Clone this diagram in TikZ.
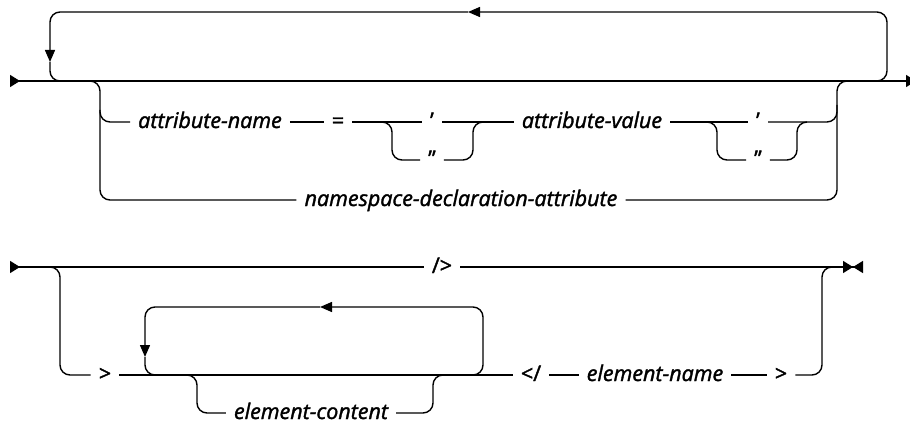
\documentclass[tikz,border=0pt]{standalone}
\usepackage{fontspec}
\setmainfont{Open Sans}[FakeBold=1.6]
\usetikzlibrary{arrows.meta}

\begin{document}
\begin{tikzpicture}[x=1pt,y=-1pt,
    rail/.style={line width=1.4pt, rounded corners=10pt},
    var/.style={font=\fontsize{21.5}{24}\selectfont\itshape, inner xsep=8pt, inner ysep=0pt, text height=12pt, text depth=0pt},
    kw/.style={font=\fontsize{21.5}{24}\selectfont, inner xsep=8pt, inner ysep=0pt, text height=12pt, text depth=0pt},
    tipL/.style={-{Triangle[length=12pt,width=10pt]}},
    startmark/.style={{Triangle[reversed,length=10pt,width=12pt]}-},
    endmark/.style={-{Triangle[length=10pt,width=12pt]}},
    stopmark/.style={-{Triangle[length=10pt,width=12pt,sep=0pt]Triangle[reversed,length=10pt,width=12pt]}}]
    \useasboundingbox (0,0) rectangle (910,425);

    % start tag: attributes
    \node[var] (an) at (210,122) {attribute-name};
    \node[kw] (eq) at (338,122) {=};
    \node[kw] (q1) at (432,122) {\symbol{"27}};
    \node[kw] (q2) at (432,160) {\symbol{"22}};
    \node[var] (av) at (592,122) {attribute-value};
    \node[kw] (q3) at (758,122) {\symbol{"27}};
    \node[kw] (q4) at (758,160) {\symbol{"22}};
    \node[var] (ns) at (461,200) {namespace-declaration-attribute};

    \coordinate (in1) at (10,81);
    \coordinate (out1) at (916,81);
    \coordinate (rep1) at (857,81);
    \coordinate (rep1tip) at (468,12);
    \coordinate (rep1down) at (50,62);
    \coordinate (br1) at (85,81);
    \coordinate (qs1) at (382,122);
    \coordinate (qs2) at (707,122);

    \draw[rail,startmark] (in1) -- (br1);
    \draw[rail,endmark] (br1) -- (out1);
    \draw[rail,tipL] (rep1) -- (887,81) -- (887,12) -- (rep1tip);
    \draw[rail,tipL] (rep1tip) -- (50,12) -- (rep1down);
    \draw[rail] (rep1down) -- (50,81) -- (70,81);

    \draw[rail] (br1) -| (100,200) -- (ns.west);
    \draw[rail] (100,110) |- (an.west);
    \draw[rail] (an) -- (eq);
    \draw[rail] (eq) -- (q1);
    \draw[rail] (qs1) -| (392,160) -- (q2.west);
    \draw[rail] (q1) -- (av);
    \draw[rail] (q2.east) -| (473,122) -- (485,122);
    \draw[rail] (av) -- (q3);
    \draw[rail] (qs2) -| (717,160) -- (q4.west);
    \draw[rail] (q4.east) -| (797,122) -- (807,122);
    \draw[rail] (q3.east) -- (837,122) -- (837,105);
    \draw[rail] (ns.east) -| (837,81) -- (852,81);

    % empty or with content
    \node[kw] (sl) at (442,267) {/>};
    \node[kw] (gt1) at (105,375) {>};
    \node[var] (ec) at (311,413) {element-content};
    \node[kw] (lt) at (531,375) {</};
    \node[var] (en) at (655,375) {element-name};
    \node[kw] (gt2) at (781,375) {>};

    \coordinate (in2) at (10,267);
    \coordinate (out2) at (863,267);
    \coordinate (br2) at (45,267);
    \coordinate (rep2) at (463,375);
    \coordinate (rep2tip) at (320,307);
    \coordinate (rep2down) at (145,357);
    \coordinate (br3) at (185,375);

    \draw[rail,startmark] (in2) -- (sl);
    \draw[rail,stopmark] (sl) -- (out2);
    \draw[rail] (br2) -| (60,375) -- (gt1.west);
    \draw[rail] (gt1) -- (lt);
    \draw[rail,tipL] (rep2) -- (483,375) -- (483,307) -- (rep2tip);
    \draw[rail,tipL] (rep2tip) -- (145,307) -- (rep2down);
    \draw[rail] (rep2down) -- (145,375) -- (165,375);
    \draw[rail] (br3) -| (197,413) -- (ec.west);
    \draw[rail] (ec.east) -| (433,375) -- (445,375);
    \draw[rail] (lt) -- (en);
    \draw[rail] (en) -- (gt2);
    \draw[rail] (gt2.east) -| (822,267) -- (835,267);
\end{tikzpicture}
\end{document}
